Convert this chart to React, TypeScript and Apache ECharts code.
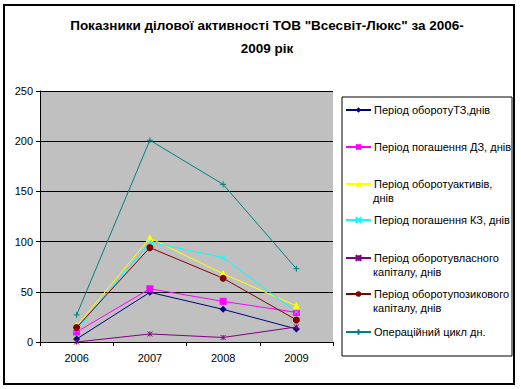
import React, { useEffect, useRef } from "react";
import * as echarts from "echarts";

const years = ["2006", "2007", "2008", "2009"];
const seriesNames = [
  "Період оборотуТЗ,днів",
  "Період погашення ДЗ, днів",
  "Період оборотуактивів, днів",
  "Період погашення КЗ, днів",
  "Період оборотувласного капіталу, днів",
  "Період оборотупозикового капіталу, днів",
  "Операційний цикл дн.",
];
const legendFirstLines = [
  "Період оборотуТЗ,днів",
  "Період погашення ДЗ, днів",
  "Період оборотуактивів,",
  "Період погашення КЗ, днів",
  "Період оборотувласного",
  "Період оборотупозикового",
  "Операційний цикл дн.",
];
const legendSecondLines = ["", "", "днів", "", "капіталу, днів", "капіталу, днів", ""];
const tzValues = [3, 49.5, 32.5, 13];
const dzValues = [10, 53, 40.5, 29.5];
const aktyvValues = [16, 103.5, 68, 36];
const kzValues = [12, 99.5, 84, 30];
const vlasnyiValues = [0, 8, 4.5, 15];
const pozykValues = [14.5, 94, 63.5, 22];
const cycleValues = [27, 201, 157, 73];
const yTicks = [0, 50, 100, 150, 200, 250];

const FONT = "'Liberation Sans', Arial, sans-serif";

export default function App() {
  const ref = useRef<HTMLDivElement>(null);
  useEffect(() => {
    if (!ref.current) return;
    const chart = echarts.init(ref.current, null, { renderer: "svg" });
    const allValues = [tzValues, dzValues, aktyvValues, kzValues, vlasnyiValues, pozykValues, cycleValues];
    const colors = ["#000080", "#FF00FF", "#FFFF00", "#00FFFF", "#800080", "#800000", "#008080"];
    const symbols = [
      "diamond",
      "rect",
      "triangle",
      "path://M0,0L8,8M8,0L0,8",
      "path://M0,0L8,8M8,0L0,8M4,0L4,8",
      "circle",
      "path://M4,0L4,8M0,4L8,4",
    ];
    const sizes = [7, 7, 8, 5, 5, 7, 6];
    const legendTops = [110, 147, 184, 220, 258, 294, 332];
    const series = allValues.map((vals, i) => ({
      name: seriesNames[i],
      type: "line",
      data: vals,
      symbol: symbols[i],
      symbolSize: sizes[i],
      showAllSymbol: true,
      lineStyle: { color: colors[i], width: 1 },
      itemStyle: { color: colors[i], borderColor: colors[i], borderWidth: symbols[i].startsWith("path") ? 1 : 0 },
    }));
    const legends = seriesNames.map((n, i) => ({
      data: [n],
      orient: "vertical",
      left: 345,
      top: legendTops[i] - 7,
      padding: 0,
      itemWidth: 25,
      itemHeight: 7,
      selectedMode: false,
      formatter: () => legendFirstLines[i],
      textStyle: { fontSize: 11, fontFamily: FONT, color: "#000", padding: [0, 0, 0, -2], lineHeight: 14 },
    }));
    const graphics: any[] = [
      { type: "rect", shape: { x: 4, y: 5, width: 510, height: 379 }, style: { fill: "none", stroke: "#000", lineWidth: 2 }, z: 100 },
      { type: "rect", shape: { x: 342, y: 97, width: 170, height: 259 }, style: { fill: "none", stroke: "#000", lineWidth: 1 } },
    ];
    legendSecondLines.forEach((t, i) => {
      if (!t) return;
      graphics.push({
        type: "text",
        x: 373,
        y: legendTops[i] + 14,
        style: { text: t, fontSize: 11, fontFamily: FONT, fill: "#000", textVerticalAlign: "middle" },
      });
    });
    chart.setOption({
      animation: false,
      title: {
        text: 'Показники ділової активності ТОВ "Всесвіт-Люкс" за 2006-\n2009 рік',
        left: 262,
        top: 9,
        textAlign: "center",
        textStyle: { fontSize: 13.5, fontWeight: "bold", fontFamily: FONT, color: "#000", lineHeight: 23 },
      },
      legend: legends,
      grid: { left: 40, top: 91, right: 188, bottom: 47, show: true, backgroundColor: "#C0C0C0", borderWidth: 0 },
      xAxis: {
        type: "category",
        data: years,
        boundaryGap: true,
        axisLine: { lineStyle: { color: "#000", width: 1 } },
        axisTick: { show: true, length: 4, lineStyle: { color: "#000" } },
        axisLabel: { fontSize: 11, fontFamily: FONT, color: "#000", margin: 10 },
      },
      yAxis: {
        type: "value",
        min: yTicks[0],
        max: yTicks[yTicks.length - 1],
        interval: 50,
        axisLine: { show: true, lineStyle: { color: "#000", width: 1 } },
        axisTick: { show: true, length: 4, lineStyle: { color: "#000" } },
        axisLabel: { fontSize: 11, fontFamily: FONT, color: "#000", margin: 7 },
        splitLine: { show: true, lineStyle: { color: "#000", width: 1 } },
      },
      graphic: graphics,
      series,
    });
    return () => chart.dispose();
  }, []);
  return <div ref={ref} style={{ width: 521, height: 389, position: "absolute", left: 0, top: 0 }} />;
}
